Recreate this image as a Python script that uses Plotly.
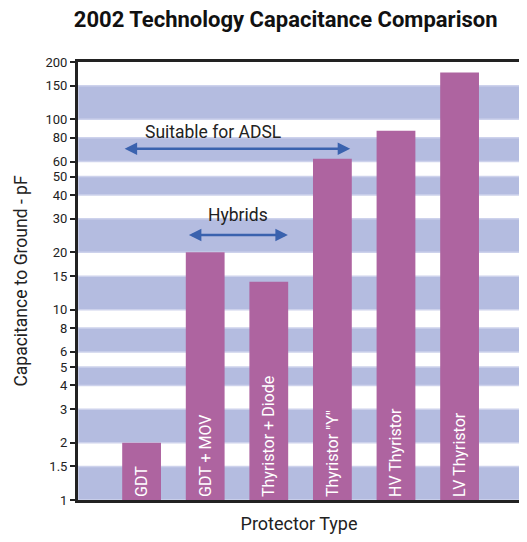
import math
import plotly.graph_objects as go

categories = ["GDT", "GDT + MOV", "Thyristor + Diode", 'Thyristor "Y"', "HV Thyristor", "LV Thyristor"]
capacitance = [2, 20, 14, 62, 87, 176]
tick_vals = [1, 1.5, 2, 3, 4, 5, 6, 8, 10, 15, 20, 30, 40, 50, 60, 80, 100, 150, 200]
tick_text = [str(v) for v in tick_vals]

FONT = "Roboto, Liberation Sans, sans-serif"
BAR = "#ae64a0"
BAND = "#b4bce0"
ARROW = "#3a62ae"

xpos = list(range(len(categories)))

fig = go.Figure()
fig.add_trace(go.Bar(
    x=xpos, y=capacitance, width=0.61,
    marker=dict(color=BAR, line=dict(width=0)),
    text=categories, textposition="inside", insidetextanchor="start",
    textangle=-90, textfont=dict(color="white", size=16, family=FONT),
    hoverinfo="skip", showlegend=False,
))

shapes = []
for i in range(0, len(tick_vals) - 1, 2):
    shapes.append(dict(type="rect", xref="paper", yref="y", x0=0, x1=1,
                       y0=tick_vals[i], y1=tick_vals[i + 1],
                       fillcolor=BAND, line=dict(color="#cdd2ec", width=1.5),
                       layer="below"))
fig.update_layout(shapes=shapes)

L = math.log10
annotations = [
    dict(x=3.28, y=L(70), ax=-0.29, ay=L(70), xref="x", yref="y", axref="x", ayref="y",
         showarrow=True, arrowhead=2, arrowside="end+start", arrowsize=1, arrowwidth=2.5,
         arrowcolor=ARROW, text=""),
    dict(x=1.12, y=L(86), xref="x", yref="y", text="Suitable for ADSL", showarrow=False,
         font=dict(size=17.5, family=FONT, color="#222")),
    dict(x=2.30, y=L(24.7), ax=0.72, ay=L(24.7), xref="x", yref="y", axref="x", ayref="y",
         showarrow=True, arrowhead=2, arrowside="end+start", arrowsize=1, arrowwidth=2.5,
         arrowcolor=ARROW, text=""),
    dict(x=1.52, y=L(31.5), xref="x", yref="y", text="Hybrids", showarrow=False,
         font=dict(size=17.5, family=FONT, color="#222")),
]

# page body has an 8px margin, so the figure is sized to fit the 527x542 window
fig.update_layout(
    width=519, height=534,
    margin=dict(l=70, r=7, t=54, b=42),
    paper_bgcolor="white", plot_bgcolor="white",
    font=dict(family=FONT, color="#222"),
    title=dict(text="<b>2002 Technology Capacitance Comparison</b>", x=0.535, xanchor="center",
               y=1, yanchor="top", pad=dict(t=4),
               font=dict(size=22, family=FONT, color="#111")),
    annotations=annotations,
    bargap=0.4,
)
fig.update_xaxes(range=[-1.0, 5.95], showticklabels=False, ticks="", showgrid=False,
                 zeroline=False, showline=True, linecolor="#222", linewidth=3, mirror=True,
                 automargin=False,
                 title=dict(text="Protector Type", font=dict(size=18, family=FONT, color="#222"),
                            standoff=16))
fig.update_yaxes(type="log", range=[0, L(200)], tickvals=tick_vals, ticktext=tick_text,
                 ticks="outside", ticklen=5, tickwidth=1.5, tickcolor="#222",
                 tickfont=dict(size=13, family=FONT, color="#222"),
                 showgrid=False, zeroline=False, showline=True, linecolor="#222", linewidth=3,
                 mirror=True, automargin=False,
                 title=dict(text="Capacitance to Ground - pF", font=dict(size=17.5, family=FONT, color="#222"),
                            standoff=14))

fig.write_html("out.html")
